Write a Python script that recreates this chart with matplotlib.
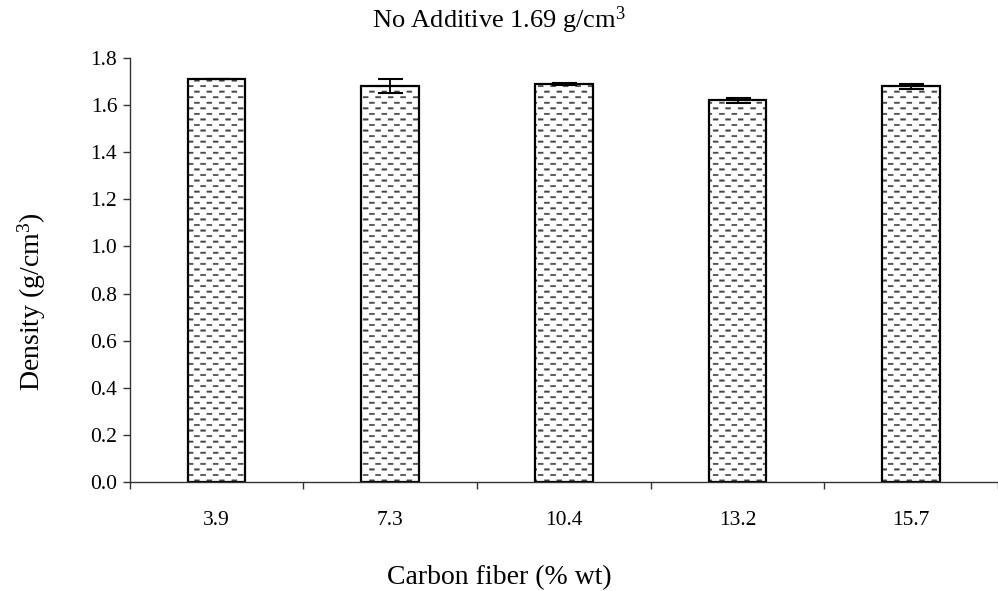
import numpy as np
import matplotlib
matplotlib.use("Agg")
import matplotlib.pyplot as plt
import matplotlib.hatch as mhatch
from matplotlib.path import Path

# ---- data ----
categories = ["3.9", "7.3", "10.4", "13.2", "15.7"]
density = [1.71, 1.68, 1.69, 1.62, 1.68]
errors = [0.0, 0.03, 0.005, 0.01, 0.01]
y_ticks = [0.0, 0.2, 0.4, 0.6, 0.8, 1.0, 1.2, 1.4, 1.6, 1.8]
title_text = r"No Additive 1.69 g/cm$^3$"
xlabel_text = "Carbon fiber (% wt)"
ylabel_text = r"Density (g/cm$^3$)"


# ---- custom staggered dash hatch (replaces '.') ----
class DashHatch(mhatch.HatchPatternBase):
    def __init__(self, hatch, density):
        n = hatch.count('.')
        self.nx = 8 if n else 0
        self.ny = 18 if n else 0
        self.num_vertices = self.nx * self.ny * 5

    def set_vertices_and_codes(self, vertices, codes):
        hw = 0.2 / self.nx
        hh = 0.13 / self.ny
        k = 0
        for r in range(self.ny):
            y = (r + 0.5) / self.ny
            for c in range(self.nx):
                x = (c + 0.25 + 0.5 * (r % 2)) / self.nx
                vertices[k:k + 5] = [(x - hw, y - hh), (x + hw, y - hh),
                                     (x + hw, y + hh), (x - hw, y + hh),
                                     (x - hw, y - hh)]
                codes[k:k + 5] = [Path.MOVETO, Path.LINETO, Path.LINETO,
                                  Path.LINETO, Path.CLOSEPOLY]
                k += 5


mhatch._hatch_types = [DashHatch if t is mhatch.SmallFilledCircles else t
                       for t in mhatch._hatch_types]

plt.rcParams['font.family'] = ['Liberation Serif', 'DejaVu Serif']
plt.rcParams['mathtext.fontset'] = 'custom'
plt.rcParams['mathtext.rm'] = 'Liberation Serif'
plt.rcParams['mathtext.it'] = 'Liberation Serif:italic'
plt.rcParams['hatch.linewidth'] = 0.3

fig = plt.figure(figsize=(9.98, 5.91), dpi=100)
ax = fig.add_axes([0.130, 0.1844, 0.870, 0.7175])

x = np.arange(len(categories))
ax.bar(x, density, width=0.333, color='white', edgecolor='#444444',
       linewidth=0, hatch='.', zorder=2)
ax.bar(x, density, width=0.333, color='none', edgecolor='black',
       linewidth=1.6, zorder=2.5)
ax.errorbar(x, density, yerr=errors, fmt='none', ecolor='black',
            elinewidth=1.3, capsize=9, capthick=1.5, zorder=3)

ax.set_xlim(-0.5, len(categories) - 0.5)
ax.set_ylim(0, 1.8)
ax.set_yticks(y_ticks)
ax.set_yticklabels([f"{v:.1f}" for v in y_ticks], fontsize=15.5)
ax.set_xticks(x)
ax.set_xticklabels(categories, fontsize=15.5)
ax.tick_params(axis='x', which='major', length=0, pad=21)
ax.set_xticks(np.arange(len(categories) + 1) - 0.5, minor=True)
ax.tick_params(axis='x', which='minor', length=5, width=1, color='#333333')
ax.tick_params(axis='y', length=5, width=1, color='#333333', pad=4)

for s in ['top', 'right']:
    ax.spines[s].set_visible(False)
for s in ['left', 'bottom']:
    ax.spines[s].set_color('#333333')
    ax.spines[s].set_linewidth(1.0)

fig.text(0.5, 0.965, title_text, ha='center', va='center', fontsize=19)
fig.text(0.5, 0.022, xlabel_text, ha='center', va='center', fontsize=20)
fig.text(0.032, 0.49, ylabel_text, ha='center', va='center', rotation=90, fontsize=20)

fig.savefig("out.png", dpi=100)
